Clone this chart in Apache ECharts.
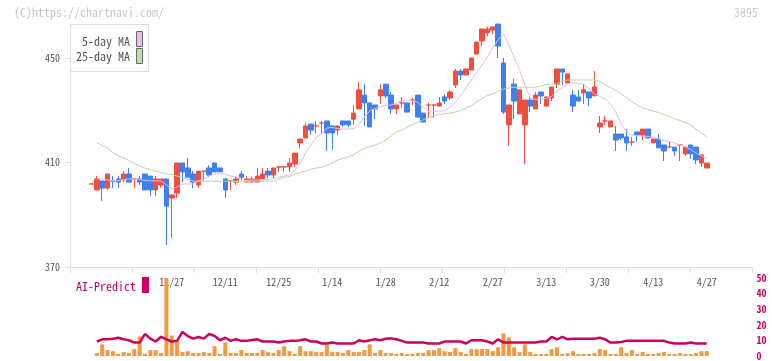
<!DOCTYPE html>
<html><head><meta charset="utf-8">
<script src="https://cdn.jsdelivr.net/npm/echarts@6/dist/echarts.min.js"></script>
<style>html,body{margin:0;padding:0;background:#fff}#c{width:772px;height:361px}</style>
</head><body><div id="c"></div>
<script>
// ---- data ----
const labelIdx = [15,25,35,45,55,65,75,85,95,105,115];
const tickLabels = ['11/27','12/11','12/25','1/14','1/28','2/12','2/27','3/13','3/30','4/13','4/27'];
const opens = [401.8,399.5,402.9,400.2,402.9,403.7,403.3,405.6,403.7,403.7,405.6,404.8,399.5,401.4,403.7,396.4,398.3,409.8,407.9,405.6,401.4,406.7,407.9,409.8,407.9,403.7,402.9,402.5,405.6,402.5,402.5,402.5,403.7,406.7,405.2,408.3,408.3,408.3,409.4,417.5,419.4,424.7,424.0,425.1,425.9,424.0,422.4,425.9,425.9,426.6,430.5,435.8,432.8,432.0,435.5,440.0,435.8,430.5,432.8,432.8,433.9,435.8,428.9,432.0,432.0,431.6,435.1,434.7,439.7,445.0,443.5,445.4,451.5,456.5,459.6,460.7,463.0,448.1,424.4,440.0,428.6,424.4,433.9,430.5,437.0,431.6,434.7,440.0,445.8,440.4,435.8,435.1,436.6,437.0,435.5,423.6,425.9,423.6,420.9,420.9,419.8,417.8,421.7,420.5,422.8,417.5,419.0,416.7,415.9,415.9,416.7,413.3,416.7,415.9,409.8,407.9];
const closes = [401.8,403.7,400.2,405.6,402.9,402.5,405.6,402.5,403.7,402.5,399.5,399.5,403.7,403.7,393.3,397.6,409.8,406.4,404.4,402.5,406.7,406.7,405.2,406.4,406.4,399.5,402.9,403.7,404.4,403.7,403.7,404.8,405.6,405.2,407.9,408.3,408.3,409.8,413.6,419.0,424.0,422.4,424.0,425.1,421.3,421.3,424.0,424.4,424.4,428.9,437.8,432.8,423.6,430.5,437.8,435.5,430.5,432.0,432.8,429.3,433.9,427.4,425.5,432.0,432.0,432.8,433.5,437.0,445.0,443.5,445.8,450.0,456.1,461.1,461.1,461.9,454.6,429.3,432.0,433.5,437.8,433.9,431.6,435.8,435.5,435.1,438.9,445.8,444.6,443.9,431.6,433.5,437.8,434.7,438.9,425.1,425.9,425.9,418.6,419.4,417.5,417.8,420.5,422.8,419.4,419.0,415.6,414.4,415.9,414.4,416.7,415.9,413.3,411.0,412.9,409.8];
const lows = [401.8,399.5,395.3,399.5,400.2,400.2,402.5,402.5,400.2,401.4,399.5,397.2,397.2,400.2,378.4,381.1,396.4,402.5,404.4,400.2,400.2,402.9,404.4,406.4,406.4,396.4,399.5,401.4,403.3,402.5,402.5,402.5,403.7,404.0,404.0,406.4,406.4,406.4,408.3,415.6,419.4,420.5,421.3,420.9,414.4,414.8,420.5,423.6,423.6,424.4,430.5,424.0,423.6,426.6,432.4,434.7,428.6,428.6,430.9,429.3,432.0,427.4,425.5,427.0,427.0,431.6,432.4,433.9,438.5,441.6,443.5,445.4,451.5,454.6,458.4,459.2,450.0,428.6,416.3,426.6,428.6,409.4,429.3,430.5,432.4,431.6,433.5,438.5,439.7,440.4,429.3,433.5,432.4,431.6,435.5,421.3,424.4,423.6,414.4,418.6,414.4,416.3,417.8,418.6,419.4,417.5,415.6,410.6,415.6,412.5,410.6,412.5,411.3,409.4,408.3,407.9];
const highs = [401.8,404.8,402.9,405.6,404.8,404.8,406.7,407.9,403.7,404.8,405.6,404.8,404.8,403.7,403.7,397.6,409.8,409.8,411.7,406.7,406.7,406.7,409.0,409.8,407.9,403.7,403.3,404.8,406.7,404.8,404.5,407.9,407.9,407.9,407.9,408.7,408.7,411.7,413.6,419.0,425.1,424.7,425.9,425.9,425.9,424.0,424.0,425.9,425.9,432.0,440.8,440.0,432.8,432.0,440.0,440.0,437.0,432.0,435.1,432.8,434.7,435.8,428.9,432.8,432.0,435.1,436.2,437.8,445.8,445.8,445.8,450.0,456.1,461.1,461.9,461.9,463.0,450.0,432.0,442.0,437.8,433.9,435.1,437.0,437.0,435.1,438.9,445.8,445.8,443.9,437.8,437.8,440.0,437.0,445.0,427.8,427.8,425.9,424.0,420.9,422.8,419.8,421.7,422.8,422.8,419.0,420.9,416.7,417.8,415.9,416.7,415.9,416.7,415.9,412.9,409.8];
const ma5 = [null,403.7,403.7,403.3,403.0,403.0,403.5,403.7,403.7,403.5,403.1,403.0,403.0,402.9,401.4,399.9,400.6,401.7,401.8,401.8,402.9,403.7,405.0,405.6,405.6,405.6,404.8,404.6,403.3,403.1,403.3,403.3,403.3,403.5,403.9,404.4,404.8,405.2,407.1,409.8,413.6,416.7,419.6,420.9,423.2,423.4,423.0,422.8,422.8,423.0,424.7,427.4,429.7,430.7,431.4,431.8,432.0,432.8,433.6,433.9,433.7,433.0,430.9,429.7,429.6,429.6,429.9,430.9,433.2,435.5,438.5,441.6,444.3,447.3,450.4,453.8,456.9,459.2,455.0,450.4,445.4,439.7,434.7,434.1,434.2,434.5,435.3,437.4,438.9,440.2,440.5,440.4,439.9,438.3,436.2,435.3,434.3,432.6,429.3,424.7,422.1,420.5,420.3,420.1,420.0,419.6,419.0,418.4,418.0,417.5,416.7,415.9,415.0,413.6,412.5,411.6];
const ma25 = [null,417.6,416.5,415.4,413.8,412.7,411.7,410.8,409.6,408.7,407.8,407.4,406.7,406.2,405.6,405.4,404.8,404.3,403.5,402.9,402.8,402.8,402.8,402.8,402.8,402.8,402.8,402.8,402.8,402.8,402.8,402.8,402.8,402.9,402.9,403.6,404.3,404.6,405.6,406.2,406.7,407.5,407.9,408.1,409.0,409.8,411.0,411.5,412.1,412.9,414.4,415.4,416.1,416.7,417.5,418.6,420.1,421.7,422.4,423.6,424.4,425.5,426.3,427.2,427.8,428.4,428.6,428.9,429.3,429.9,430.9,431.6,433.2,434.5,435.6,436.2,437.4,438.1,438.5,438.8,438.8,438.8,438.8,438.8,439.3,439.8,440.0,440.0,441.2,441.6,441.6,441.6,441.6,441.6,441.6,441.0,439.7,438.7,437.6,436.2,434.9,433.3,432.0,430.9,430.3,429.7,429.1,428.4,427.6,426.8,426.1,425.3,424.4,422.8,421.3,419.8];
const volume = [null,1.9,7.5,3.8,3.1,1.3,2.5,1.9,4.4,12.5,1.3,3.8,3.8,1.9,50,13.1,9.4,2.5,3.1,1.9,1.9,2.5,1.9,6.3,1.3,8.8,1.9,1.9,3.8,1.9,1.9,1.9,3.8,2.5,1.9,3.8,6.3,3.1,1.3,6.3,3.1,3.1,2.5,2.5,7.5,2.5,2.5,1.9,3.8,2.5,2.5,3.8,7.5,1.9,3.8,1.9,1.9,1.3,1.9,1.3,1.3,1.9,1.9,3.8,3.8,5.0,3.1,2.5,5.0,2.5,1.3,4.4,4.4,4.4,4.4,3.1,5.6,14.4,11.9,5.6,2.5,7.5,2.5,1.3,1.3,1.3,4.4,5.6,1.3,1.9,3.1,1.3,1.3,1.3,1.9,4.4,3.8,1.3,1.3,5.6,1.9,3.8,1.3,2.5,1.3,1.3,1.9,2.5,1.3,1.3,1.9,1.3,1.3,1.9,3.1,3.1];
const aiPredict = [null,9.3,10.7,10.7,11.1,11.7,10.7,10.1,8.6,8.6,14.2,11.1,9.3,12.3,10.7,9.3,9.7,15.4,12.8,11.1,12.2,11.1,14.2,12.8,10.1,11.7,9.7,10.7,9.7,9.7,10.2,10.7,9.3,9.3,9.3,8.6,9.3,9.7,9.7,10.1,10.7,9.3,9.3,8.0,8.0,8.6,8.0,8.0,8.0,8.0,10.1,9.3,10.1,10.7,10.1,11.1,11.3,10.7,9.7,8.6,8.6,8.6,8.6,8.0,8.0,8.0,9.3,9.3,9.3,9.3,8.0,10.1,10.1,10.1,9.3,8.0,10.7,8.6,8.6,8.6,8.6,8.6,8.6,8.6,9.3,9.3,12.2,10.7,12.2,10.7,11.1,11.1,11.1,11.1,11.1,11.7,10.7,8.6,8.6,9.0,9.7,9.7,9.7,9.7,9.7,9.7,9.7,9.7,8.6,8.0,8.0,8.0,8.6,8.0,8.0,8.0];
const yTicks = [370,410,450];
const volTicks = [0,10,20,30,40,50];

// ---- build ----
const cats = opens.map((_, i) => 'd' + i);
const ohlc = opens.map((o, i) => [o, closes[i], lows[i], highs[i]]);
const FONT = '"Noto Sans Mono CJK JP","DejaVu Sans Mono",monospace';
const RED = '#f04f40', BLUE = '#3f7ff0', CRIMSON = '#cc0060';
const G_LEFT = 88.825, G_RIGHT = 62.575;
const PX_PER_UNIT = 2.6125;
const frameMax = 370 + (267 - 24) / PX_PER_UNIT;

const chart = echarts.init(document.getElementById('c'), null, {renderer: 'canvas'});
chart.setOption({
  animation: false,
  backgroundColor: '#fff',
  grid: [
    {left: 70, right: 20, top: 24, bottom: 94},
    {left: G_LEFT, right: G_RIGHT, top: 5.75, bottom: 94},
    {left: G_LEFT, right: G_RIGHT, top: 278, bottom: 2}
  ],
  xAxis: [
    {type: 'value', gridIndex: 0, min: 0, max: 11, interval: 1,
     axisLine: {show: true, lineStyle: {color: '#e0e0e0', width: 1}},
     axisTick: {show: true, length: 6, lineStyle: {color: '#e0e0e0'}},
     axisLabel: {show: false}, splitLine: {show: false}},
    {type: 'category', gridIndex: 1, data: cats, boundaryGap: true,
     axisLine: {show: false}, axisTick: {show: false}, splitLine: {show: false},
     axisLabel: {show: true, margin: 10, color: '#555', fontFamily: FONT, fontSize: 10,
       interval: (i) => labelIdx.indexOf(i) >= 0,
       formatter: (v, i) => { const k = labelIdx.indexOf(i); return k >= 0 ? tickLabels[k] : ''; }}},
    {type: 'category', gridIndex: 2, data: cats, boundaryGap: true, show: false}
  ],
  yAxis: [
    {type: 'value', gridIndex: 0, min: 370, max: frameMax,
     axisLine: {show: true, lineStyle: {color: '#e0e0e0'}},
     axisTick: {show: true, length: 5, lineStyle: {color: '#e0e0e0'}, customValues: yTicks},
     axisLabel: {show: true, margin: 10, color: '#555', fontFamily: FONT, fontSize: 10, customValues: yTicks,
       formatter: (v) => yTicks.indexOf(v) >= 0 ? String(v) : ''},
     splitLine: {show: false}},
    {type: 'value', gridIndex: 1, min: 370, max: 470, show: false},
    {type: 'value', gridIndex: 2, min: 0, max: 50, interval: 10, position: 'right', offset: 44,
     axisLine: {show: false}, axisTick: {show: false}, splitLine: {show: false},
     axisLabel: {show: true, margin: 3, color: CRIMSON, fontFamily: FONT, fontSize: 10, fontWeight: 'bold', customValues: volTicks}}
  ],
  series: [
    {type: 'line', xAxisIndex: 1, yAxisIndex: 1, data: ma25, symbol: 'none', silent: true,
     lineStyle: {color: '#b5dba5', width: 1}},
    {type: 'line', xAxisIndex: 1, yAxisIndex: 1, data: ma5, symbol: 'none', silent: true,
     lineStyle: {color: '#eab8ee', width: 1}},
    {type: 'candlestick', xAxisIndex: 1, yAxisIndex: 1, data: ohlc, barWidth: 5,
     itemStyle: {color: RED, color0: BLUE, borderColor: RED, borderColor0: BLUE, borderWidth: 1}},
    {type: 'bar', xAxisIndex: 2, yAxisIndex: 2, data: volume, barWidth: 4,
     itemStyle: {color: '#f39a40'}},
    {type: 'line', xAxisIndex: 2, yAxisIndex: 2, data: aiPredict, symbol: 'none',
     lineStyle: {color: CRIMSON, width: 2.5}}
  ],
  graphic: [
    {type: 'text', left: 14, top: 6, style: {text: '(C)https://chartnavi.com/', fill: '#c8c8c8', font: '12px ' + FONT}},
    {type: 'text', right: 14, top: 6, style: {text: '3895', fill: '#c8c8c8', font: '12px ' + FONT}},
    {type: 'rect', shape: {x: 70.5, y: 24.5, width: 78, height: 47}, style: {fill: '#fff', stroke: '#dddddd', lineWidth: 1}, z: 100},
    {type: 'text', x: 130, y: 41.5, style: {text: '5-day MA', fill: '#555', font: '12px ' + FONT, align: 'right', verticalAlign: 'middle'}, z: 101},
    {type: 'text', x: 130, y: 56.5, style: {text: '25-day MA', fill: '#555', font: '12px ' + FONT, align: 'right', verticalAlign: 'middle'}, z: 101},
    {type: 'rect', shape: {x: 136.5, y: 31.5, width: 6, height: 15}, style: {fill: '#eebbee', stroke: '#666', lineWidth: 1}, z: 101},
    {type: 'rect', shape: {x: 136.5, y: 48.5, width: 6, height: 15}, style: {fill: '#bbdfaa', stroke: '#666', lineWidth: 1}, z: 101},
    {type: 'text', x: 76, y: 286, style: {text: 'AI-Predict', fill: CRIMSON, font: '12px ' + FONT, verticalAlign: 'middle'}, z: 101},
    {type: 'rect', shape: {x: 142, y: 277, width: 7, height: 16}, style: {fill: CRIMSON}, z: 101}
  ]
});
</script></body></html>
